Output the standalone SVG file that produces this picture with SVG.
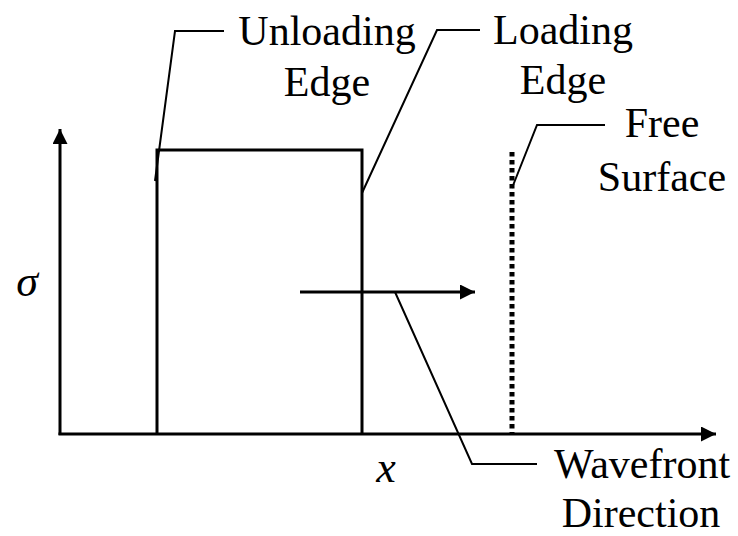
<svg xmlns="http://www.w3.org/2000/svg" width="738" height="536" viewBox="0 0 738 536">
<style>
.t{font-family:"Times New Roman","Liberation Serif",serif;font-size:42px;fill:#000;text-anchor:middle}
.m{font-family:"Times New Roman","Liberation Serif",serif;font-size:44px;font-style:italic;fill:#000;text-anchor:middle}
.ax{stroke:#000;stroke-width:3;fill:none}
.ld{stroke:#000;stroke-width:2;fill:none}
</style>
<defs>
<marker id="ah" viewBox="0 0 10 10" refX="10" refY="5" markerWidth="5" markerHeight="5" markerUnits="strokeWidth" orient="auto">
<path d="M0,0 L10,5 L0,10 Z" fill="#000"/>
</marker>
</defs>
<rect width="738" height="536" fill="#fff"/>
<g id="axes">
<line class="ax" x1="60" y1="435" x2="60" y2="129" marker-end="url(#ah)"/>
<line class="ax" x1="58.5" y1="434" x2="716" y2="434" marker-end="url(#ah)"/>
<text class="m" x="27" y="296">σ</text>
<text class="m" x="386" y="482">x</text>
</g>
<g id="pulse">
<polyline class="ax" points="157,434 157,150 362,150 362,434"/>
</g>
<g id="free-surface">
<line x1="512" y1="152" x2="512" y2="433" stroke="#000" stroke-width="5" stroke-dasharray="4.5,3.5"/>
</g>
<g id="wavefront-arrow">
<line class="ax" x1="300" y1="292" x2="475" y2="292" marker-end="url(#ah)"/>
</g>
<g id="connectors">
<polyline class="ld" points="155,181 175,31 224,31"/>
<polyline class="ld" points="362,193 437,30 480,30"/>
<polyline class="ld" points="512,188 537,125 605,125"/>
<polyline class="ld" points="395,292 472,464 537,464"/>
</g>
<g id="label-unloading">
<text class="t" x="327" y="45">Unloading</text>
<text class="t" x="327" y="96">Edge</text>
</g>
<g id="label-loading">
<text class="t" x="563" y="44">Loading</text>
<text class="t" x="563" y="94">Edge</text>
</g>
<g id="label-free">
<text class="t" x="662" y="137">Free</text>
<text class="t" x="662" y="191">Surface</text>
</g>
<g id="label-wavefront">
<text class="t" x="642" y="478">Wavefront</text>
<text class="t" x="641" y="527">Direction</text>
</g>
</svg>
